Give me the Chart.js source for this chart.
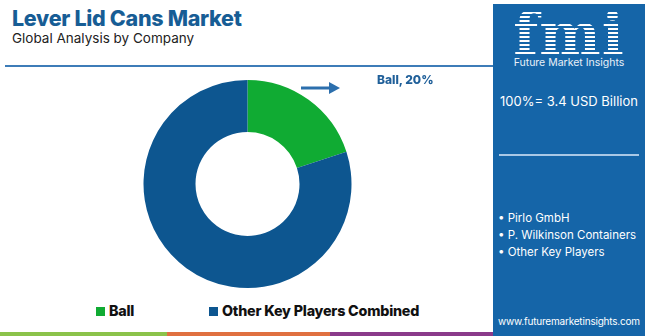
<!DOCTYPE html>
<html lang="en">
<head>
  <meta charset="UTF-8">
  <title>Lever Lid Cans Market</title>
  <script src="https://cdn.jsdelivr.net/npm/chart.js"></script>
  <style>
    body {
      margin: 0;
      width: 650px;
      height: 336px;
      background: #fff;
      font-family: 'Inter', sans-serif;
      position: relative;
      overflow: hidden;
    }
    .title {
      position: absolute; left: 12px; top: 5px;
      font-size: 21.5px; font-weight: 800; color: #175d95;
      letter-spacing: -0.3px;
    }
    .subtitle {
      position: absolute; left: 12px; top: 30px;
      font-size: 13.5px; color: #222;
    }
    .topline {
      position: absolute; left: 5px; top: 65px; width: 488px; height: 2px;
      background: #3d7cb8;
    }
    .chart-box {
      position: absolute; left: 5px; top: 70px; width: 485px; height: 228px;
    }
    .legend {
      position: absolute; top: 302px; left: 0; width: 493px; height: 18px;
    }
    .legend span {
      position: absolute; font-size: 14.3px; font-weight: 800; color: #111;
      line-height: 18px; letter-spacing: -0.2px; white-space: nowrap;
    }
    .legend i {
      position: absolute; width: 9px; height: 9px; top: 5px;
    }
    .stripe { position: absolute; top: 332px; height: 4px; }
    .panel {
      position: absolute; left: 493px; top: 4px; width: 152px; height: 332px;
      background: #1565a8; color: #fff; white-space: nowrap;
    }
    .logo {
      position: absolute; left: 0; width: 152px; top: -4px; text-align: center;
      font-family: 'DejaVu Serif', serif; font-size: 58px; font-weight: bold;
      letter-spacing: 1px;
      background: repeating-linear-gradient(#fff 0 2.5px, transparent 2.5px 4px);
      -webkit-background-clip: text; background-clip: text; color: transparent;
    }
    .logo-sub {
      position: absolute; left: 0; width: 152px; top: 52px; text-align: center;
      font-size: 10.5px; color: #e8f0f8;
    }
    .total {
      position: absolute; left: 0; width: 152px; top: 89px; text-align: center;
      font-size: 13px;
    }
    .panel-line {
      position: absolute; left: 6px; width: 140px; top: 150px; height: 2px; background: #a9c8e6;
    }
    .players {
      position: absolute; left: 5px; top: 206px; font-size: 11.5px; line-height: 17px;
    }
    .url {
      position: absolute; left: 0; width: 152px; top: 311px; text-align: center; font-size: 10px;
      letter-spacing: -0.2px;
    }
    .note {
      position: absolute; left: 377px; top: 72px; font-size: 12px; font-weight: 800; color: #1f5f99;
    }
    svg.arrow { position: absolute; left: 298px; top: 80px; }
  </style>
</head>
<body>
  <div class="title">Lever Lid Cans Market</div>
  <div class="subtitle">Global Analysis by Company</div>
  <div class="topline"></div>

  <div class="chart-box"><canvas id="donut"></canvas></div>
  <svg class="arrow" width="46" height="16">
    <line x1="3" y1="8" x2="34" y2="8" stroke="#2c6fad" stroke-width="3"/>
    <polygon points="31,2 42,8 31,14" fill="#2c6fad"/>
  </svg>
  <div class="note" id="note"></div>

  <div class="legend" id="legend"></div>

  <div class="stripe" style="left:0;width:167px;background:#8bc34a"></div>
  <div class="stripe" style="left:167px;width:163px;background:#e07040"></div>
  <div class="stripe" style="left:330px;width:164px;background:#8a3a8a"></div>

  <div class="panel">
    <div class="logo">fmi</div>
    <div class="logo-sub">Future Market Insights</div>
    <div class="total">100%= 3.4 USD Billion</div>
    <div class="panel-line"></div>
    <div class="players">
      &bull; Pirlo GmbH<br>
      &bull; P. Wilkinson Containers<br>
      &bull; Other Key Players
    </div>
    <div class="url">www.futuremarketinsights.com</div>
  </div>

  <script>
    // Market share by company (%)
    const companies = ['Ball', 'Other Key Players Combined'];
    const shares = [20, 80];
    const colors = ['#10ab33', '#0d5690'];

    new Chart(document.getElementById('donut'), {
      type: 'doughnut',
      data: {
        labels: companies,
        datasets: [{
          data: shares,
          backgroundColor: colors,
          borderWidth: 0
        }]
      },
      options: {
        responsive: true,
        maintainAspectRatio: false,
        animation: false,
        cutout: '50%',
        layout: { padding: { top: 10, bottom: 10 } },
        plugins: {
          legend: { display: false },
          tooltip: { enabled: false }
        }
      }
    });

    // Callout for the first slice
    document.getElementById('note').textContent = companies[0] + ', ' + shares[0] + '%';

    // Legend under the chart
    const legendPos = [96, 209];
    const legend = document.getElementById('legend');
    companies.forEach(function (name, i) {
      const box = document.createElement('i');
      box.style.left = legendPos[i] + 'px';
      box.style.background = colors[i];
      const txt = document.createElement('span');
      txt.style.left = (legendPos[i] + 13) + 'px';
      txt.textContent = name;
      legend.appendChild(box);
      legend.appendChild(txt);
    });
  </script>
</body>
</html>
